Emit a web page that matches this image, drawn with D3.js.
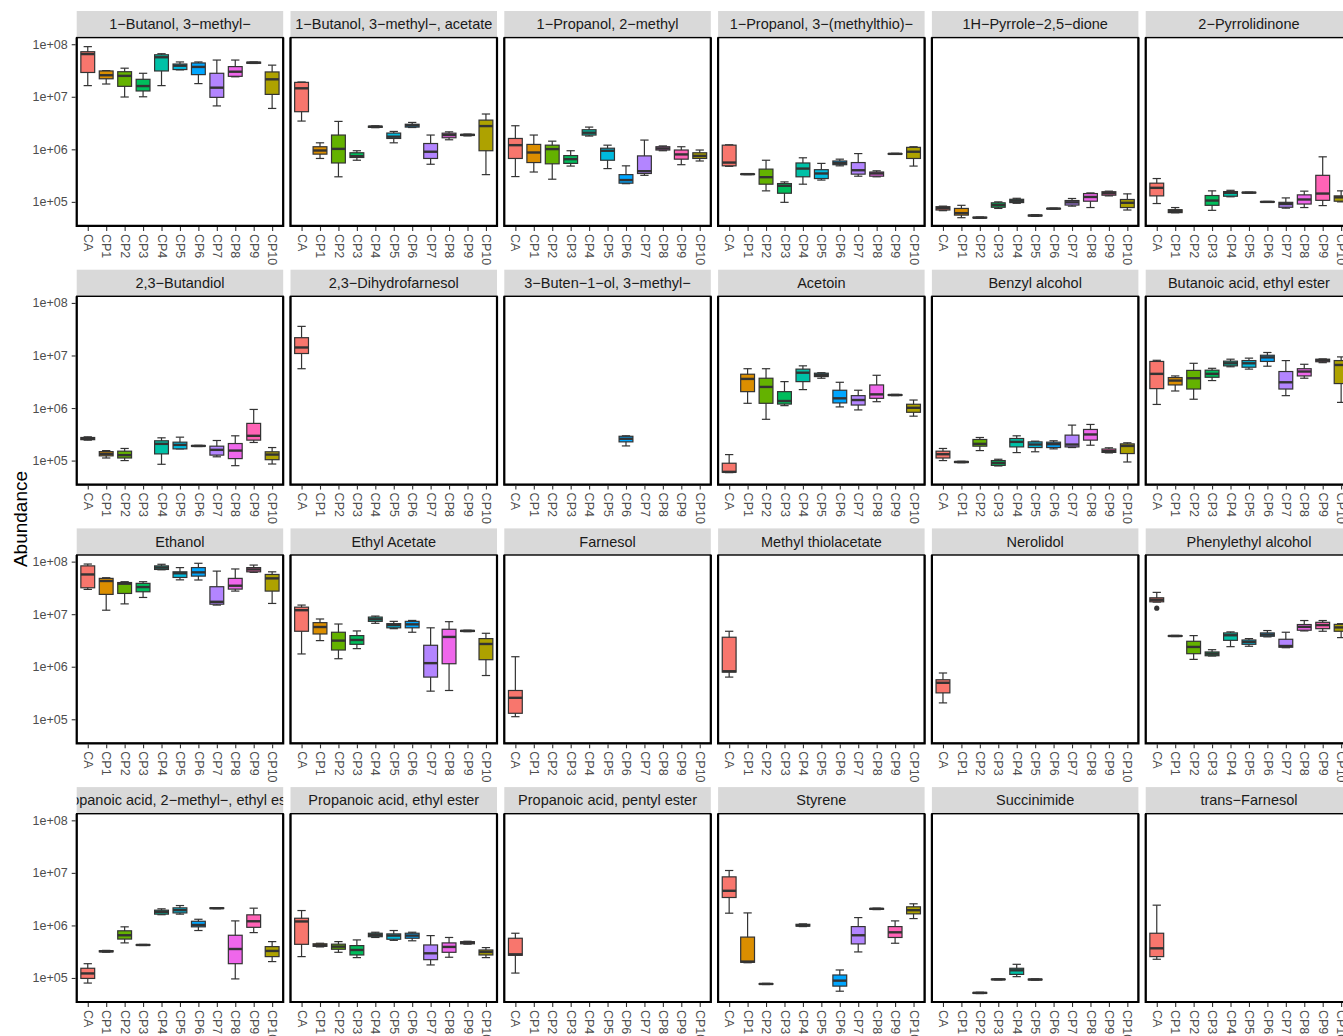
<!DOCTYPE html>
<html>
<head>
<meta charset="utf-8">
<script src="https://cdn.jsdelivr.net/npm/d3@7"></script>
<style>
  html, body { margin: 0; padding: 0; background: #fff; overflow: hidden; }
  svg { display: block; font-family: "Liberation Sans", Arial, Helvetica, sans-serif; }
</style>
</head>
<body>
<svg id="chart" width="1343" height="1036"></svg>
<script>
// Sample groups (x categories) and their fill colours
const groups = ["CA", "CP1", "CP2", "CP3", "CP4", "CP5", "CP6", "CP7", "CP8", "CP9", "CP10"];
const groupColors = ["#F8766D", "#DB8E00", "#64B200", "#00BD5C", "#00C1A7", "#00BADE",
                     "#00A6FF", "#B385FF", "#EF67EB", "#FF63B6", "#AEA200"];

// Y axis ticks (log scale)
const yTicks = [1e5, 1e6, 1e7, 1e8];
const yTickLabels = ["1e+05", "1e+06", "1e+07", "1e+08"];
const yDomain = [3.49e4, 1.337e8];

// Box statistics per compound, one entry per group: [lower whisker, Q1, median, Q3, upper whisker]
const butanolMethyl = [
  [1.63e7, 2.9e7, 6.5e7, 7.2e7, 9.0e7], [1.75e7, 2.2e7, 2.57e7, 3.1e7, 3.15e7],
  [9.9e6, 1.58e7, 2.5e7, 3.0e7, 3.5e7], [1.0e7, 1.29e7, 1.6e7, 2.15e7, 2.8e7],
  [1.63e7, 3.1e7, 5.65e7, 6.3e7, 6.6e7], [3.25e7, 3.3e7, 3.9e7, 4.2e7, 4.6e7],
  [1.78e7, 2.64e7, 3.7e7, 4.4e7, 4.6e7], [6.7e6, 9.75e6, 1.49e7, 2.8e7, 5.0e7],
  [2.4e7, 2.45e7, 3.0e7, 3.75e7, 5.0e7], [4.3e7, 4.35e7, 4.45e7, 4.55e7, 4.6e7],
  [6.0e6, 1.11e7, 2.15e7, 2.97e7, 4.0e7]];
const butanolMethylAcetate = [
  [3.45e6, 5.2e6, 1.45e7, 1.88e7, 1.91e7], [6.7e5, 8.1e5, 9.5e5, 1.12e6, 1.33e6],
  [3.0e5, 5.5e5, 1.02e6, 1.87e6, 3.4e6], [6.2e5, 7.0e5, 7.4e5, 8.6e5, 9.4e5],
  [2.58e6, 2.62e6, 2.7e6, 2.75e6, 2.8e6], [1.33e6, 1.61e6, 1.74e6, 2.04e6, 2.19e6],
  [2.6e6, 2.65e6, 2.85e6, 3.0e6, 3.25e6], [5.2e5, 6.7e5, 9.0e5, 1.29e6, 1.87e6],
  [1.52e6, 1.66e6, 1.87e6, 2.03e6, 2.15e6], [1.8e6, 1.84e6, 1.88e6, 1.92e6, 1.95e6],
  [3.3e5, 9.4e5, 2.77e6, 3.6e6, 4.7e6]];
const propanolMethyl = [
  [3.03e5, 6.7e5, 1.2e6, 1.61e6, 2.81e6], [3.7e5, 5.6e5, 8.7e5, 1.24e6, 1.87e6],
  [2.7e5, 5.3e5, 1.01e6, 1.2e6, 1.43e6], [4.8e5, 5.4e5, 6.5e5, 7.6e5, 9.4e5],
  [1.79e6, 1.87e6, 2.07e6, 2.36e6, 2.65e6], [4.3e5, 6.2e5, 9.4e5, 1.05e6, 1.2e6],
  [2.22e5, 2.27e5, 2.6e5, 3.3e5, 4.85e5], [3.2e5, 3.47e5, 3.84e5, 7.5e5, 1.5e6],
  [9.4e5, 9.7e5, 1.04e6, 1.12e6, 1.16e6], [5.1e5, 6.5e5, 8.0e5, 9.7e5, 1.12e6],
  [6.0e5, 6.7e5, 7.5e5, 8.6e5, 9.7e5]];
const propanolMethylthio = [
  [4.75e5, 4.85e5, 5.6e5, 1.2e6, 1.22e6], [3.3e5, 3.33e5, 3.37e5, 3.4e5, 3.45e5],
  [1.62e5, 2.17e5, 2.95e5, 4.2e5, 6.2e5], [9.8e4, 1.46e5, 2.02e5, 2.23e5, 2.4e5],
  [2.17e5, 3.0e5, 4.3e5, 5.5e5, 6.9e5], [2.6e5, 2.78e5, 3.47e5, 4.1e5, 5.4e5],
  [4.85e5, 5.1e5, 5.5e5, 6.0e5, 6.5e5], [3.08e5, 3.37e5, 4.0e5, 5.6e5, 8.3e5],
  [3.0e5, 3.08e5, 3.47e5, 3.7e5, 3.9e5], [8.0e5, 8.1e5, 8.2e5, 8.3e5, 8.4e5],
  [4.8e5, 6.7e5, 9.0e5, 1.09e6, 1.12e6]];
const pyrroleDione = [
  [6.8e4, 7.0e4, 7.6e4, 8.1e4, 8.3e4], [5.0e4, 5.6e4, 6.1e4, 7.5e4, 8.6e4],
  [4.9e4, 4.95e4, 5.0e4, 5.1e4, 5.15e4], [7.5e4, 7.9e4, 8.7e4, 9.6e4, 1.0e5],
  [9.4e4, 9.7e4, 1.05e5, 1.12e5, 1.17e5], [5.3e4, 5.4e4, 5.5e4, 5.6e4, 5.7e4],
  [7.3e4, 7.35e4, 7.45e4, 7.5e4, 7.6e4], [8.3e4, 8.7e4, 9.8e4, 1.06e5, 1.16e5],
  [7.8e4, 1.03e5, 1.24e5, 1.44e5, 1.48e5], [1.3e5, 1.34e5, 1.46e5, 1.56e5, 1.6e5],
  [7.0e4, 7.8e4, 9.6e4, 1.11e5, 1.42e5]];
const pyrrolidinone = [
  [9.3e4, 1.3e5, 1.85e5, 2.27e5, 2.78e5], [6.2e4, 6.25e4, 6.7e4, 7.1e4, 7.8e4],
  null, [6.9e4, 8.6e4, 1.06e5, 1.32e5, 1.62e5],
  [1.25e5, 1.28e5, 1.49e5, 1.57e5, 1.66e5], [1.47e5, 1.48e5, 1.5e5, 1.52e5, 1.53e5],
  [9.8e4, 9.9e4, 1.0e5, 1.01e5, 1.02e5], [7.6e4, 7.9e4, 9.1e4, 9.8e4, 1.19e5],
  [7.8e4, 9.1e4, 1.11e5, 1.36e5, 1.6e5], [8.5e4, 1.07e5, 1.44e5, 3.2e5, 7.2e5],
  [1.0e5, 1.03e5, 1.22e5, 1.3e5, 1.62e5]];
const butandiol = [
  [2.45e5, 2.5e5, 2.6e5, 2.75e5, 2.83e5], [1.12e5, 1.23e5, 1.34e5, 1.48e5, 1.55e5],
  [1.0e5, 1.12e5, 1.27e5, 1.51e5, 1.7e5], null,
  [8.5e4, 1.34e5, 2.08e5, 2.38e5, 2.71e5], [1.67e5, 1.67e5, 1.99e5, 2.24e5, 2.79e5],
  [1.85e5, 1.87e5, 1.9e5, 1.93e5, 1.95e5], [1.18e5, 1.27e5, 1.6e5, 1.88e5, 2.41e5],
  [8.0e4, 1.09e5, 1.55e5, 2.11e5, 2.96e5], [2.21e5, 2.45e5, 2.96e5, 5.1e5, 9.4e5],
  [8.6e4, 1.04e5, 1.3e5, 1.47e5, 1.77e5]];
const dihydrofarnesol = [
  [5.6e6, 1.09e7, 1.42e7, 2.18e7, 3.58e7], null, null, null, null, null,
  null, null, null, null, null];
const butenolMethyl = [
  null, null, null, null, null, null,
  [1.9e5, 2.27e5, 2.6e5, 2.9e5, 2.96e5], null, null, null, null];
const acetoin = [
  [5.9e4, 6.0e4, 6.1e4, 8.9e4, 1.3e5], [1.23e6, 2.05e6, 3.58e6, 4.4e6, 5.6e6],
  [6.1e5, 1.23e6, 2.52e6, 3.69e6, 5.6e6], [1.11e6, 1.19e6, 1.36e6, 2.05e6, 3.18e6],
  [2.24e6, 3.18e6, 4.7e6, 5.5e6, 6.35e6], [3.69e6, 3.97e6, 4.28e6, 4.6e6, 4.7e6],
  [1.05e6, 1.25e6, 1.53e6, 2.18e6, 3.09e6], [9.2e5, 1.14e6, 1.42e6, 1.72e6, 2.18e6],
  [1.32e6, 1.53e6, 1.82e6, 2.75e6, 4.2e6], [1.72e6, 1.74e6, 1.77e6, 1.8e6, 1.82e6],
  [7.0e5, 8.3e5, 1.01e6, 1.18e6, 1.42e6]];
const benzylAlcohol = [
  [1.0e5, 1.12e5, 1.32e5, 1.51e5, 1.7e5], [9.1e4, 9.2e4, 9.4e4, 9.6e4, 9.7e4],
  [1.55e5, 1.88e5, 2.08e5, 2.52e5, 2.75e5], [7.9e4, 8.1e4, 9.0e4, 1.0e5, 1.06e5],
  [1.42e5, 1.82e5, 2.27e5, 2.63e5, 2.96e5], [1.47e5, 1.77e5, 2.02e5, 2.27e5, 2.34e5],
  [1.67e5, 1.77e5, 2.05e5, 2.24e5, 2.38e5], [1.77e5, 1.82e5, 2.02e5, 3.05e5, 4.73e5],
  [1.96e5, 2.45e5, 3.14e5, 3.91e5, 4.87e5], [1.4e5, 1.43e5, 1.51e5, 1.66e5, 1.75e5],
  [9.4e4, 1.36e5, 1.9e5, 2.08e5, 2.18e5]];
const butanoicEthyl = [
  [1.17e6, 2.34e6, 4.47e6, 7.7e6, 8.1e6], [2.11e6, 2.75e6, 3.33e6, 3.8e6, 4.08e6],
  [1.47e6, 2.3e6, 3.69e6, 5.2e6, 7.1e6], [3.33e6, 3.85e6, 4.47e6, 5.25e6, 5.7e6],
  [6.1e6, 6.35e6, 7.1e6, 7.8e6, 8.5e6], [5.5e6, 5.98e6, 7.1e6, 8.0e6, 8.9e6],
  [6.25e6, 7.7e6, 9.2e6, 1.01e7, 1.14e7], [1.72e6, 2.3e6, 3.09e6, 4.95e6, 8.0e6],
  [3.69e6, 4.08e6, 4.95e6, 5.6e6, 6.8e6], [7.3e6, 7.6e6, 8.1e6, 8.5e6, 8.6e6],
  [1.28e6, 2.92e6, 6.6e6, 8.0e6, 9.4e6]];
const ethanol = [
  [2.96e7, 3.18e7, 5.7e7, 8.3e7, 9.0e7], [1.19e7, 2.38e7, 4.28e7, 4.8e7, 4.94e7],
  [1.57e7, 2.48e7, 3.8e7, 4.0e7, 4.15e7], [2.08e7, 2.67e7, 3.28e7, 3.86e7, 4.15e7],
  [7.0e7, 7.1e7, 7.7e7, 8.3e7, 8.9e7], [4.5e7, 5.0e7, 6.0e7, 6.4e7, 7.7e7],
  [4.47e7, 5.3e7, 6.25e7, 7.7e7, 9.3e7], [1.49e7, 1.55e7, 1.72e7, 3.33e7, 6.6e7],
  [2.75e7, 3.0e7, 3.48e7, 4.8e7, 7.25e7], [6.25e7, 6.4e7, 7.1e7, 7.7e7, 8.6e7],
  [1.6e7, 2.75e7, 4.8e7, 5.7e7, 6.4e7]];
const ethylAcetate = [
  [1.75e6, 4.73e6, 1.19e7, 1.36e7, 1.49e7], [3.14e6, 4.2e6, 5.7e6, 6.9e6, 8.1e6],
  [1.42e6, 2.08e6, 3.14e6, 4.53e6, 6.5e6], [2.21e6, 2.67e6, 3.23e6, 3.91e6, 4.8e6],
  [6.7e6, 7.3e6, 8.0e6, 8.8e6, 9.2e6], [5.3e6, 5.5e6, 6.2e6, 6.6e6, 7.3e6],
  [4.53e6, 5.5e6, 6.4e6, 7.3e6, 7.6e6], [3.43e5, 6.35e5, 1.17e6, 2.56e6, 5.5e6],
  [3.53e5, 1.14e6, 3.69e6, 5.16e6, 7.2e6], [4.65e6, 4.7e6, 4.8e6, 4.9e6, 4.95e6],
  [6.8e5, 1.36e6, 2.71e6, 3.43e6, 4.33e6]];
const farnesol = [
  [1.12e5, 1.3e5, 2.56e5, 3.53e5, 1.55e6], null, null, null, null, null,
  null, null, null, null, null];
const methylThiolacetate = [
  [6.35e5, 7.9e5, 8.2e5, 3.64e6, 4.73e6], null, null, null, null, null,
  null, null, null, null, null];
const nerolidol = [
  [2.05e5, 3.18e5, 4.95e5, 5.65e5, 7.6e5], null, null, null, null, null,
  null, null, null, null, null];
const phenylethylAlcohol = [
  [1.7e7, 1.72e7, 1.88e7, 2.05e7, 2.6e7], [3.75e6, 3.8e6, 3.85e6, 3.9e6, 3.95e6],
  [1.38e6, 1.77e6, 2.38e6, 3.05e6, 3.91e6], [1.6e6, 1.62e6, 1.77e6, 1.91e6, 2.11e6],
  [2.41e6, 3.18e6, 3.97e6, 4.4e6, 4.6e6], [2.45e6, 2.67e6, 2.96e6, 3.23e6, 3.43e6],
  [3.7e6, 3.8e6, 4.08e6, 4.4e6, 4.88e6], [2.3e6, 2.35e6, 2.48e6, 3.33e6, 4.53e6],
  [4.8e6, 4.95e6, 5.73e6, 6.35e6, 7.57e6], [4.73e6, 5.3e6, 6.2e6, 7.0e6, 7.57e6],
  [3.58e6, 4.73e6, 5.6e6, 6.4e6, 6.6e6]];
const isobutyricEthyl = [
  [8.0e4, 9.8e4, 1.22e5, 1.53e5, 1.87e5], [3.1e5, 3.15e5, 3.22e5, 3.3e5, 3.35e5],
  [4.65e5, 5.5e5, 6.5e5, 7.9e5, 9.4e5], [4.15e5, 4.2e5, 4.25e5, 4.3e5, 4.35e5],
  [1.6e6, 1.64e6, 1.81e6, 1.95e6, 2.07e6], [1.64e6, 1.73e6, 1.95e6, 2.16e6, 2.39e6],
  [8.0e5, 9.4e5, 1.02e6, 1.2e6, 1.31e6], [2.08e6, 2.1e6, 2.13e6, 2.16e6, 2.18e6],
  [9.6e4, 1.87e5, 3.56e5, 6.5e5, 1.22e6], [7.3e5, 9.2e5, 1.2e6, 1.59e6, 2.13e6],
  [2.05e5, 2.55e5, 3.27e5, 3.95e5, 4.92e5]];
const propanoicEthyl = [
  [2.55e5, 4.37e5, 1.19e6, 1.37e6, 1.92e6], [3.9e5, 4.0e5, 4.19e5, 4.47e5, 4.58e5],
  [3.08e5, 3.52e5, 3.95e5, 4.4e5, 4.92e5], [2.44e5, 2.74e5, 3.41e5, 4.13e5, 5.3e5],
  [5.9e5, 6.1e5, 6.6e5, 7.1e5, 7.42e5], [5.2e5, 5.46e5, 6.4e5, 6.9e5, 8.0e5],
  [5.1e5, 5.7e5, 6.4e5, 7.1e5, 7.42e5], [1.77e5, 2.23e5, 2.95e5, 4.25e5, 6.4e5],
  [2.48e5, 3.08e5, 3.9e5, 4.65e5, 5.9e5], [4.4e5, 4.47e5, 4.7e5, 4.9e5, 5.0e5],
  [2.44e5, 2.74e5, 3.13e5, 3.41e5, 3.79e5]];
const propanoicPentyl = [
  [1.24e5, 2.7e5, 2.82e5, 5.7e5, 7.1e5], null, null, null, null, null,
  null, null, null, null, null];
const styrene = [
  [1.71e6, 3.4e6, 4.56e6, 8.4e6, 1.11e7], [1.95e5, 1.99e5, 2.05e5, 6.0e5, 1.73e6],
  [7.5e4, 7.6e4, 7.7e4, 7.8e4, 7.9e4], null,
  [9.5e5, 9.7e5, 1.0e6, 1.05e6, 1.07e6], null,
  [5.6e4, 7.0e4, 8.9e4, 1.14e5, 1.42e5], [3.13e5, 4.45e5, 6.5e5, 9.5e5, 1.41e6],
  [2.0e6, 2.03e6, 2.07e6, 2.1e6, 2.13e6], [4.58e5, 5.9e5, 7.4e5, 9.5e5, 1.22e6],
  [1.35e6, 1.66e6, 1.95e6, 2.26e6, 2.58e6]];
const succinimide = [
  null, null,
  [5.05e4, 5.1e4, 5.2e4, 5.3e4, 5.35e4], [9.2e4, 9.3e4, 9.4e4, 9.5e4, 9.6e4],
  [1.06e5, 1.17e5, 1.4e5, 1.53e5, 1.82e5], [9.1e4, 9.2e4, 9.35e4, 9.5e4, 9.6e4],
  null, null, null, null, null];
const transFarnesol = [
  [2.27e5, 2.55e5, 3.67e5, 7.1e5, 2.43e6], null, null, null, null, null,
  null, null, null, null, null];

// Facet titles, in panel order, and the matching statistics
const panelTitles = [
  "1−Butanol, 3−methyl−", "1−Butanol, 3−methyl−, acetate", "1−Propanol, 2−methyl",
  "1−Propanol, 3−(methylthio)−", "1H−Pyrrole−2,5−dione", "2−Pyrrolidinone",
  "2,3−Butandiol", "2,3−Dihydrofarnesol", "3−Buten−1−ol, 3−methyl−",
  "Acetoin", "Benzyl alcohol", "Butanoic acid, ethyl ester",
  "Ethanol", "Ethyl Acetate", "Farnesol",
  "Methyl thiolacetate", "Nerolidol", "Phenylethyl alcohol",
  "Propanoic acid, 2−methyl−, ethyl ester", "Propanoic acid, ethyl ester", "Propanoic acid, pentyl ester",
  "Styrene", "Succinimide", "trans−Farnesol"];
const panelStats = [
  butanolMethyl, butanolMethylAcetate, propanolMethyl,
  propanolMethylthio, pyrroleDione, pyrrolidinone,
  butandiol, dihydrofarnesol, butenolMethyl,
  acetoin, benzylAlcohol, butanoicEthyl,
  ethanol, ethylAcetate, farnesol,
  methylThiolacetate, nerolidol, phenylethylAlcohol,
  isobutyricEthyl, propanoicEthyl, propanoicPentyl,
  styrene, succinimide, transFarnesol];

// Points beyond the whiskers: [panel index, group, value]
const outlierPoints = [[17, "CA", 1.3e7]];

// ---- layout ----
const nCol = 6;
const panelLeft0 = 76.7, colStep = 213.8, panelW = 206.5;
const stripTop0 = 11, rowStep = 258.7, stripH = 26.6, panelH = 188.3;
const axisFont = 12.5, stripFont = 14.5;

const svg = d3.select("#chart");
const defs = svg.append("defs");

const x = d3.scalePoint().domain(groups).range([0, panelW]).padding(0.6);
const y = d3.scaleLog().domain(yDomain).range([panelH, 0]);
const step = x.step();
const boxW = step * 0.75, capW = step * 0.45;
const colorOf = d3.scaleOrdinal().domain(groups).range(groupColors);

panelTitles.forEach((title, p) => {
  const col = p % nCol, row = Math.floor(p / nCol);
  const px = panelLeft0 + col * colStep;
  const py = stripTop0 + row * rowStep + stripH;
  const g = svg.append("g").attr("transform", `translate(${px},${py})`);

  // strip
  const clipId = "strip-clip-" + p;
  defs.append("clipPath").attr("id", clipId)
    .append("rect").attr("x", 0).attr("y", -stripH).attr("width", panelW).attr("height", stripH);
  g.append("rect").attr("x", 0).attr("y", -stripH).attr("width", panelW).attr("height", stripH)
    .attr("fill", "#D9D9D9");
  g.append("text").attr("clip-path", `url(#${clipId})`)
    .attr("x", panelW / 2).attr("y", -stripH / 2).attr("dy", "0.35em")
    .attr("text-anchor", "middle").attr("font-size", stripFont).attr("fill", "#1A1A1A")
    .text(title);

  // panel background
  g.append("rect").attr("width", panelW).attr("height", panelH).attr("fill", "#fff");

  // boxes
  const stats = panelStats[p];
  const boxes = g.append("g");
  stats.forEach((s, i) => {
    if (!s) return;
    const grp = groups[i];
    const cx = x(grp);
    const [lo, q1, med, q3, hi] = s;
    const bg = boxes.append("g");
    bg.append("line").attr("x1", cx).attr("x2", cx).attr("y1", y(hi)).attr("y2", y(lo))
      .attr("stroke", "#333").attr("stroke-width", 1.2);
    [lo, hi].forEach(v => {
      bg.append("line").attr("x1", cx - capW / 2).attr("x2", cx + capW / 2)
        .attr("y1", y(v)).attr("y2", y(v)).attr("stroke", "#333").attr("stroke-width", 1.2);
    });
    bg.append("rect").attr("x", cx - boxW / 2).attr("width", boxW)
      .attr("y", y(q3)).attr("height", Math.max(0, y(q1) - y(q3)))
      .attr("fill", colorOf(grp)).attr("stroke", "#333").attr("stroke-width", 1.2);
    bg.append("line").attr("x1", cx - boxW / 2).attr("x2", cx + boxW / 2)
      .attr("y1", y(med)).attr("y2", y(med)).attr("stroke", "#333").attr("stroke-width", 2.4);
  });
  outlierPoints.filter(o => o[0] === p).forEach(o => {
    boxes.append("circle").attr("cx", x(o[1])).attr("cy", y(o[2])).attr("r", 2.6).attr("fill", "#333");
  });

  // frame
  g.append("rect").attr("width", panelW).attr("height", panelH)
    .attr("fill", "none").attr("stroke", "#000").attr("stroke-width", 1.4);
  g.append("path").attr("d", `M0,0V${panelH}H${panelW}V0`)
    .attr("fill", "none").attr("stroke", "#000").attr("stroke-width", 2.2);

  // x axis with rotated labels
  const xa = g.append("g").attr("transform", `translate(0,${panelH + 1})`)
    .call(d3.axisBottom(x).tickSize(4).tickPadding(3));
  xa.select(".domain").remove();
  xa.selectAll(".tick line").attr("stroke", "#333").attr("stroke-width", 1.1);
  xa.selectAll(".tick text")
    .attr("transform", "rotate(90)").attr("x", 7).attr("y", 0).attr("dy", "0.35em")
    .attr("text-anchor", "start").attr("font-size", axisFont).attr("fill", "#4D4D4D")
    .attr("font-family", "Liberation Sans, Arial, sans-serif");

  // y axis on the first column only
  if (col === 0) {
    const ya = g.append("g").attr("transform", "translate(-1,0)")
      .call(d3.axisLeft(y).tickValues(yTicks).tickFormat((d, i) => yTickLabels[i]).tickSize(4).tickPadding(4));
    ya.select(".domain").remove();
    ya.selectAll(".tick line").attr("stroke", "#333").attr("stroke-width", 1.1);
    ya.selectAll(".tick text").attr("font-size", axisFont).attr("fill", "#4D4D4D")
      .attr("font-family", "Liberation Sans, Arial, sans-serif");
  }
});

// y axis title
svg.append("text")
  .attr("transform", "translate(20,519) rotate(-90)")
  .attr("text-anchor", "middle").attr("dy", "0.35em")
  .attr("font-size", 19).attr("fill", "#000")
  .text("Abundance");
</script>
</body>
</html>
